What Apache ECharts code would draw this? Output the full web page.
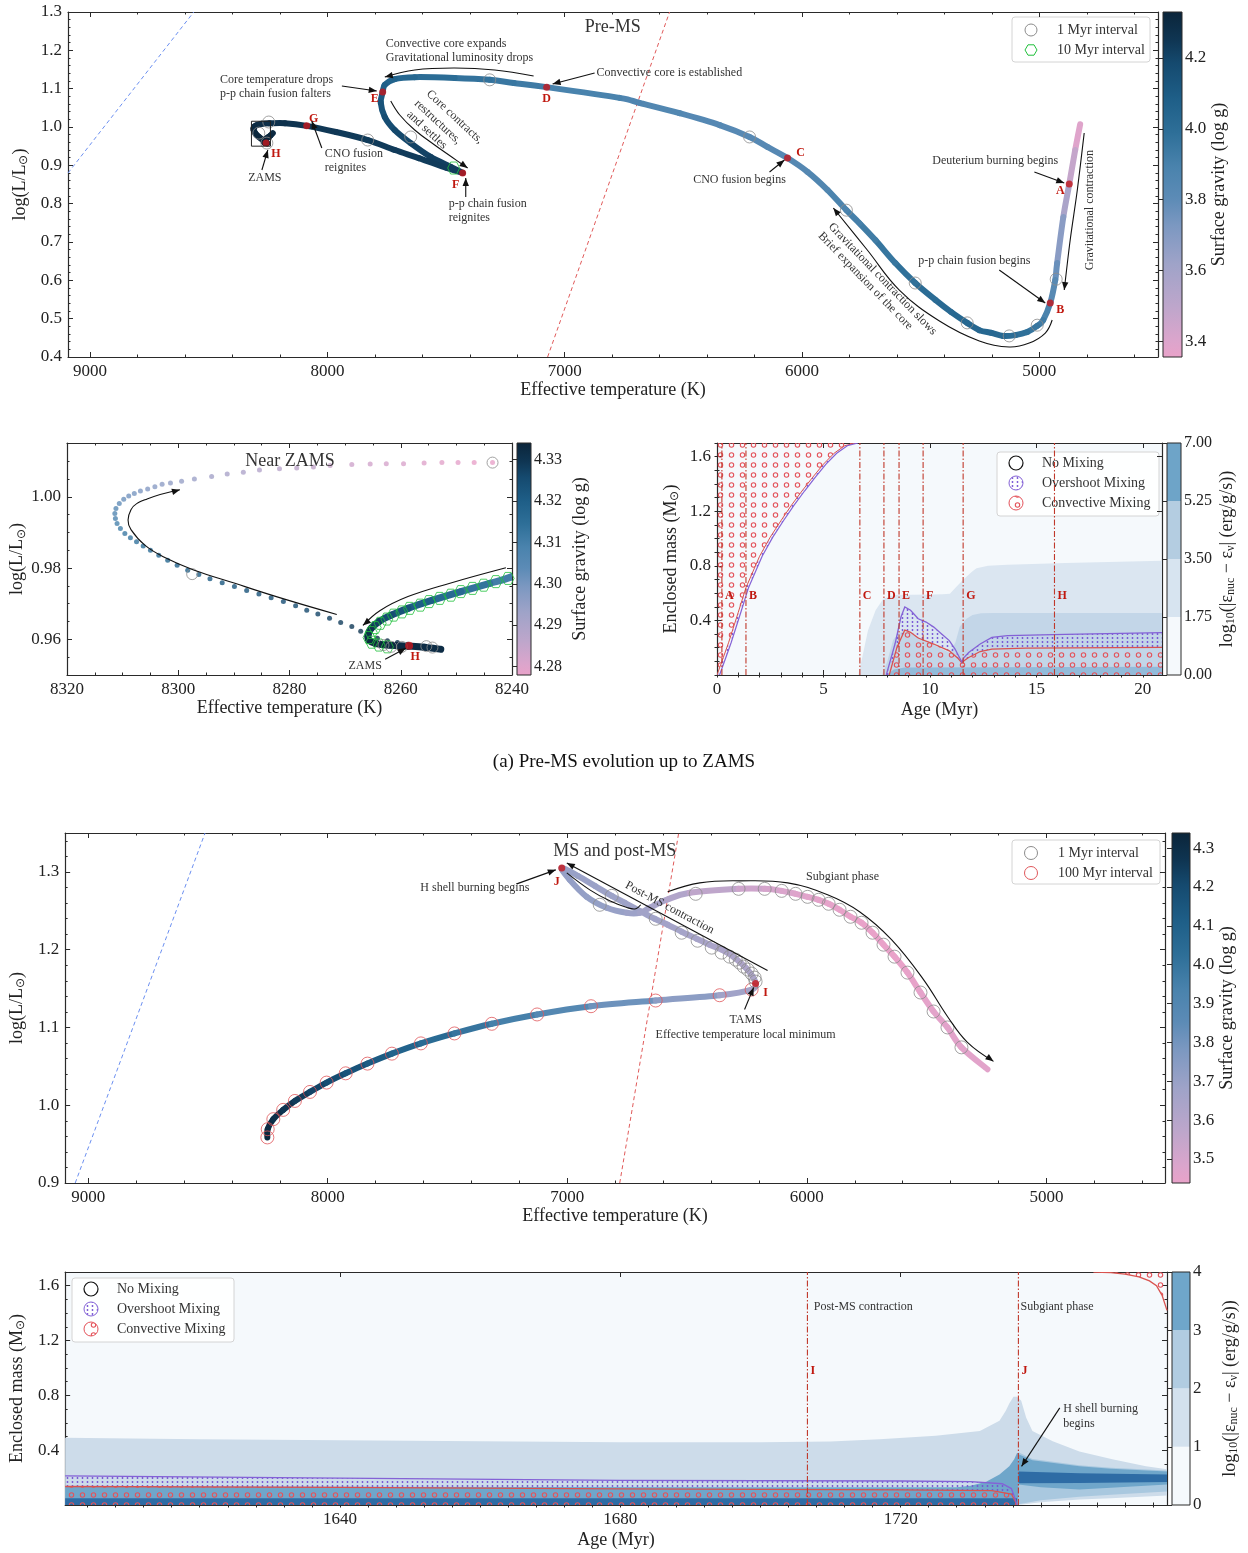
<!DOCTYPE html>
<html>
<head>
<meta charset="utf-8">
<script src="https://cdn.jsdelivr.net/npm/echarts/dist/echarts.min.js"></script>
<style>html,body{margin:0;padding:0;background:#fff}#c{width:1248px;height:1553px}</style>
</head>
<body>
<div id="c"></div>
<script>
// ---------------- Pre-MS evolutionary track (Teff, log L, log g) ----------------
const preTeff = [4828,4849,4874,4899,4925,4933,4954,4984,5009,5051,5101,5152,5202,5253,5304,5371,5438,5523,5607,5691,5758,5813,5893,5977,6061,6146,6221,6347,6516,6685,6769,7076,7215,7316,7464,7632,7716,7758,7767,7775,7758,7716,7649,7565,7480,7430,7497,7615,7716,7830,7964,8087,8179,8243.5,8275.7,8297.1,8306.8,8310.6,8311.3,8309.6,8305.0,8298.3,8289.9,8278.9,8268.8,8262.4,8258.7];
const preLum = [1.007,0.940,0.851,0.765,0.645,0.601,0.541,0.496,0.481,0.465,0.457,0.455,0.463,0.470,0.489,0.517,0.549,0.593,0.645,0.705,0.749,0.783,0.836,0.883,0.919,0.948,0.974,1.005,1.036,1.063,1.076,1.104,1.115,1.123,1.128,1.130,1.125,1.110,1.091,1.063,1.026,0.992,0.958,0.922,0.896,0.880,0.893,0.919,0.940,0.966,0.987,1.003,1.010,1.0096,1.0084,1.0050,1.0016,0.9981,0.9939,0.9897,0.9850,0.9794,0.9748,0.9694,0.9636,0.9596,0.9586];
const preLogg = [3.351,3.426,3.524,3.619,3.748,3.795,3.862,3.918,3.941,3.972,3.997,4.016,4.025,4.035,4.033,4.026,4.016,3.999,3.973,3.939,3.915,3.898,3.869,3.846,3.834,3.830,3.825,3.829,3.843,3.861,3.869,3.918,3.941,3.957,3.987,4.024,4.048,4.072,4.093,4.123,4.156,4.181,4.200,4.216,4.223,4.227,4.230,4.231,4.233,4.232,4.241,4.251,4.264,4.278,4.286,4.293,4.299,4.303,4.307,4.311,4.315,4.319,4.322,4.325,4.329,4.332,4.332];

// main-sequence arm arriving at the ZAMS point
const armTeff = [8230,8240,8244.0,8249.2,8254.3,8258.7,8261.7,8263.9,8265.3,8265.9,8265.7,8264.6,8262.4,8258.7,8255.8,8252.8];
const armLum = [0.984,0.9776,0.9757,0.9734,0.9710,0.9687,0.9668,0.9650,0.9631,0.9612,0.9598,0.9589,0.9584,0.9581,0.9578,0.9572];
const armLogg = [4.300,4.309,4.3115,4.315,4.318,4.322,4.324,4.326,4.329,4.331,4.332,4.333,4.333,4.332,4.332,4.332];

// 1 Myr / 10 Myr age markers on the pre-MS track
const pre1MyrTeff = [7316,7649,7830,8247,8289,8255,6221,5813,5523,5304,5127,5009,4929];
const pre1MyrLum = [1.123,0.974,0.966,1.013,0.984,0.958,0.974,0.783,0.593,0.489,0.455,0.483,0.603];
const pre10MyrTeff = [7468];
const pre10MyrLum = [0.893];

// evolutionary stages A-H
const stageNames = ['A','B','C','D','E','F','G','H'];
const stageTeff = [4874,4954,6061,7076,7767,7430,8087,8258.5];
const stageLum = [0.851,0.541,0.919,1.104,1.091,0.880,1.003,0.9582];

// ---------------- Near-ZAMS model points ----------------
const zamsDotTeff = [8243.5,8246.8,8249.7,8252.6,8255.8,8259.5,8262.6,8265.5,8268.8,8272.7,8275.7,8278.7,8281.8,8285.4,8288.3,8291.2,8294.0,8297.1,8299.4,8301.4,8302.9,8304.2,8305.5,8306.8,8307.9,8308.9,8309.8,8310.6,8311.2,8311.4,8311.3,8311.0,8310.4,8309.6,8308.6,8307.5,8306.3,8305.0,8303.5,8301.9,8300.2,8298.3,8296.3,8294.3,8292.1,8289.9,8287.7,8285.5,8283.3,8281.1,8278.9,8276.9,8274.9,8272.8,8270.8,8268.8,8267.2,8265.7,8264.2,8262.4,8260.6,8258.7];
const zamsDotLum = [1.0096,1.0096,1.0096,1.0096,1.0095,1.0093,1.0093,1.0092,1.0091,1.0088,1.0084,1.0081,1.0079,1.0075,1.0069,1.0064,1.0057,1.0050,1.0044,1.0039,1.0035,1.0028,1.0022,1.0016,1.0009,1.0002,0.9993,0.9981,0.9967,0.9953,0.9939,0.9925,0.9911,0.9897,0.9885,0.9874,0.9862,0.9850,0.9836,0.9822,0.9808,0.9794,0.9782,0.9770,0.9759,0.9748,0.9737,0.9727,0.9717,0.9706,0.9694,0.9682,0.9671,0.9659,0.9647,0.9636,0.9623,0.9612,0.9603,0.9596,0.9591,0.9586];
const zamsDotLogg = [4.2775,4.2782,4.2788,4.2794,4.2802,4.2812,4.2818,4.2825,4.2833,4.2844,4.2855,4.2864,4.2872,4.2884,4.2896,4.2907,4.2920,4.2934,4.2944,4.2954,4.2961,4.2970,4.2979,4.2988,4.2997,4.3006,4.3017,4.3031,4.3046,4.3061,4.3074,4.3088,4.3100,4.3113,4.3123,4.3131,4.3141,4.3150,4.3161,4.3172,4.3182,4.3192,4.3200,4.3208,4.3214,4.3220,4.3227,4.3232,4.3238,4.3244,4.3251,4.3259,4.3266,4.3274,4.3281,4.3288,4.3298,4.3306,4.3311,4.3315,4.3316,4.3317];
const zams10MyrTeff = [8240.7,8242.9,8245.1,8247.1,8249.2,8251.0,8253.0,8254.9,8256.5,8258.4,8259.8,8261.3,8262.5,8263.7,8264.6,8265.3,8265.7,8265.2,8263.9,8262.4];
const zams10MyrLum = [0.9771,0.9762,0.9752,0.9743,0.9734,0.9724,0.9715,0.9706,0.9696,0.9687,0.9677,0.9668,0.9657,0.9645,0.9633,0.9619,0.9605,0.9592,0.9584,0.9579];
const zams1MyrTeff = [8297.5,8243.5,8263.1,8261.7,8259.8,8255.4,8254.3];
const zams1MyrLum = [0.9783,1.0096,0.9584,0.9579,0.9579,0.9581,0.9577];

// ---------------- MS and post-MS track ----------------
const msTeff = [8252,8250.5,8227,8186,8137,8074,8004.5,7925,7834,7732,7611,7471,7315,7126,6901,6631,6364,6230.5,6214,6226,6255.5,6297,6347,6406,6460,6522.5,6581,6635,6698,6760,6814.5,6885,6956,7023,6989.6,6918.7,6835.3,6751.9,6697.7,6656,6585,6489,6285,6176,6105,6047,5997,5951,5909,5863.5,5817.6,5771.7,5725.8,5680,5634,5580,5525.6,5471,5413,5354.6,5246];
const msLum = [0.9586,0.9692,0.9821,0.9940,1.0055,1.0171,1.0291,1.0410,1.0535,1.0663,1.0795,1.0923,1.1047,1.1167,1.1273,1.1346,1.1414,1.1487,1.1564,1.1654,1.1769,1.1885,1.1987,1.2064,1.2141,1.2231,1.2321,1.2397,1.2500,1.2603,1.2692,1.2821,1.2949,1.3051,1.2897,1.2679,1.2538,1.2474,1.2474,1.2538,1.2641,1.2731,1.2782,1.2782,1.2756,1.2718,1.2679,1.2641,1.2590,1.2513,1.2423,1.2346,1.2218,1.2064,1.1910,1.1705,1.1449,1.1205,1.1000,1.0744,1.0462];
const msLogg = [4.331,4.320,4.302,4.281,4.260,4.234,4.207,4.178,4.146,4.110,4.069,4.024,3.975,3.918,3.852,3.775,3.697,3.653,3.640,3.635,3.631,3.631,3.635,3.643,3.650,3.658,3.664,3.671,3.677,3.683,3.688,3.693,3.698,3.704,3.711,3.715,3.708,3.694,3.680,3.662,3.633,3.599,3.538,3.508,3.490,3.478,3.467,3.457,3.450,3.445,3.440,3.434,3.433,3.434,3.435,3.439,3.448,3.455,3.457,3.464,3.456];
const ms100MyrTeff = [8252,8250.5,8227,8186,8137,8074,8004.5,7925,7834,7732,7611,7471,7315,7126,6901,6631,6364,6230.5];
const ms100MyrLum = [0.9586,0.9692,0.9821,0.9940,1.0055,1.0171,1.0291,1.0410,1.0535,1.0663,1.0795,1.0923,1.1047,1.1167,1.1273,1.1346,1.1414,1.1487];
const ms1MyrTeff = [6631,6522.5,6456,6397,6356,6322,6297,6281,6264,6247,6230.5,6218,6214,6814.5,6864.5,6464,6285,6176,6105,6047,5997,5951,5909,5863.5,5817.6,5771.7,5725.8,5680,5634,5580,5525.6,5471,5413,5354.6];
const ms1MyrLum = [1.2397,1.2218,1.2115,1.2026,1.1962,1.1910,1.1872,1.1833,1.1782,1.1744,1.1692,1.1641,1.1590,1.2692,1.2577,1.2718,1.2782,1.2782,1.2756,1.2718,1.2679,1.2641,1.2590,1.2513,1.2423,1.2346,1.2218,1.2064,1.1910,1.1705,1.1449,1.1205,1.1000,1.0744];
const msStageNames = ['I','J'];
const msStageTeff = [6214,7023];
const msStageLum = [1.1564,1.3051];

// ---------------- Kippenhahn diagram, pre-MS (age in Myr, enclosed mass in Msun) ----------------
const k1Band2Age = [6.64,6.82,7.09,7.45,7.82,8.36,9.09,10.18,10.6,10.94,11.2,11.55,12.0,12.19,12.73,13.64,16.36,20.9];
const k1Band2M = [0,0.128,0.326,0.474,0.561,0.586,0.588,0.590,0.592,0.596,0.64,0.696,0.76,0.782,0.801,0.808,0.821,0.838];
const k1Band3Age = [7.75,8.0,8.27,8.5,8.8,9.1,9.5,10.2,10.94,11.2,11.4,11.7,12.0,12.4,13.0,20.9];
const k1Band3M = [0,0.1,0.256,0.3,0.33,0.31,0.27,0.22,0.161,0.24,0.354,0.41,0.44,0.452,0.454,0.455];
const k1Band4Age = [7.95,8.3,8.8,20.9];
const k1Band4M = [0,0.04,0.055,0.06];
const k1ConvEnvAge = [0,0.3,0.55,1.0,1.36,2.0,2.5,3.0,3.5,4.0,4.5,5.0,5.5,6.0,6.5];
const k1ConvEnvM = [0,0.13,0.24,0.46,0.64,0.87,1.01,1.13,1.245,1.35,1.45,1.545,1.625,1.68,1.70];
const k1OvEnvAge = [0.12,0.42,0.67,1.12,1.48,2.12,2.62,3.12,3.62,4.12,4.62,5.12,5.62,6.12,6.62];
const k1OvEnvM = [0,0.13,0.24,0.46,0.64,0.87,1.01,1.13,1.245,1.35,1.45,1.545,1.625,1.68,1.70];
const k1ConvCoreAge = [8.09,8.45,8.82,9.09,9.45,10.18,10.91,11.3,11.5,11.6,11.82,12.36,12.91,14.5,20.9];
const k1ConvCoreM = [0,0.202,0.330,0.313,0.271,0.227,0.177,0.125,0.09,0.105,0.128,0.172,0.190,0.197,0.202];
const k1OvCoreAge = [7.95,8.36,8.64,8.82,9.09,9.45,9.82,10.18,10.55,10.91,11.18,11.5,11.6,11.82,12.36,12.91,13.64,16.36,20.9];
const k1OvCoreM = [0,0.227,0.425,0.499,0.474,0.412,0.388,0.351,0.301,0.252,0.190,0.095,0.128,0.165,0.227,0.276,0.289,0.298,0.311];
const k1StageNames = ['A','B','C','D','E','F','G','H'];
const k1StageAge = [0.23,1.36,6.71,7.84,8.55,9.68,11.56,15.85];

// ---------------- Kippenhahn diagram, MS and post-MS ----------------
const k2Band12Age = [1600.8,1620,1640,1660,1680,1700,1710,1717,1725,1731.3,1734.1,1735,1735.5,1736.1,1736.6,1737.2,1737.9,1738.8,1741.7,1745.5,1750.2,1755,1758];
const k2Band12M = [0.490,0.480,0.472,0.465,0.458,0.458,0.463,0.48,0.505,0.54,0.614,0.688,0.74,0.79,0.79,0.761,0.638,0.54,0.466,0.39,0.333,0.282,0.26];
const k2Band12LowAge = [1600.8,1736.8,1740,1745.5,1750,1758];
const k2Band12LowM = [0,0,0.02,0.04,0.05,0.07];
const k2Band23Age = [1736.8,1738.8,1745.5,1750,1758];
const k2Band23M = [0.385,0.335,0.29,0.272,0.252];
const k2Band23LowAge = [1736.8,1740,1745.5,1750,1758];
const k2Band23LowM = [0.005,0.035,0.06,0.075,0.098];
const k2Band34PreAge = [1600.8,1700,1728,1730,1732.2,1734.1,1735.5,1736.2,1736.6,1736.8];
const k2Band34PreM = [0.135,0.13,0.13,0.14,0.17,0.223,0.282,0.333,0.38,0.38];
const k2Band34PostAge = [1736.8,1738.8,1745.5,1750,1758];
const k2Band34PostM = [0.37,0.326,0.282,0.265,0.245];
const k2Band34PostLowAge = [1736.8,1740,1745.5,1750,1758];
const k2Band34PostLowM = [0.15,0.13,0.113,0.125,0.15];
const k2CorePreAge = [1600.8,1736.6];
const k2CorePreM = [0.05,0.05];
const k2CorePostAge = [1736.8,1745.5,1758];
const k2CorePostM = [0.245,0.232,0.223];
const k2CorePostLowM = [0.159,0.16,0.167];
const k2ConvCoreAge = [1600.8,1640,1680,1720,1733,1735.8,1736.4,1736.5];
const k2ConvCoreM = [0.135,0.128,0.118,0.11,0.105,0.08,0.02,0];
const k2OvCoreAge = [1600.8,1640,1680,1720,1730,1734.5,1735.8,1736.3,1736.6];
const k2OvCoreM = [0.213,0.196,0.18,0.175,0.17,0.155,0.12,0.05,0];
const k2ConvEnvAge = [1747.5,1750,1752,1754,1755.5,1756.5,1757.3,1758];
const k2ConvEnvM = [1.70,1.695,1.685,1.665,1.635,1.60,1.53,1.42];
const k2StageNames = ['I','J'];
const k2StageAge = [1706.7,1736.8];

// ---------------- helpers ----------------
const FONT = '"Liberation Serif","Times New Roman",serif';
const INK = '#2a2a2a';
const STOPS = [[0,'#e9a2c9'],[0.05,'#dba5cc'],[0.15,'#bda6cb'],[0.27,'#9fa3c8'],[0.38,'#7c98c1'],[0.46,'#5c8bb6'],[0.55,'#4a83ad'],[0.65,'#2e6f98'],[0.75,'#1e5e87'],[0.85,'#154a6f'],[0.92,'#0f3552'],[1,'#0b253a']];
function hex2rgb(h){return [parseInt(h.slice(1,3),16),parseInt(h.slice(3,5),16),parseInt(h.slice(5,7),16)];}
function cmap(t){
  t = Math.max(0, Math.min(1, t));
  for (let i = 1; i < STOPS.length; i++) {
    if (t <= STOPS[i][0]) {
      const a = hex2rgb(STOPS[i-1][1]), b = hex2rgb(STOPS[i][1]);
      const f = (t - STOPS[i-1][0]) / (STOPS[i][0] - STOPS[i-1][0]);
      return 'rgb(' + a.map((v,k)=>Math.round(v + (b[k]-v)*f)).join(',') + ')';
    }
  }
  return STOPS[STOPS.length-1][1];
}
const range = (a,b,d) => { const o=[]; const n=Math.round((b-a)/d); for(let i=0;i<=n;i++) o.push(+(a+i*d).toFixed(6)); return o; };

function makePattern(w, h, draw){
  const c = document.createElement('canvas'); c.width = w; c.height = h;
  draw(c.getContext('2d'));
  return {image: c, repeat: 'repeat'};
}
const RED = '#e4535b', PURPLE = '#8462d6';
const redCircles = makePattern(11, 10, ctx => { ctx.strokeStyle = RED; ctx.lineWidth = 1.1; ctx.beginPath(); ctx.arc(5.5,5,2.2,0,Math.PI*2); ctx.stroke(); });
const purpleDots = makePattern(5, 4, ctx => { ctx.fillStyle = '#7450d4'; ctx.beginPath(); ctx.arc(2.5,2,0.9,0,Math.PI*2); ctx.fill(); });

const grids = [], xAxes = [], yAxes = [], series = [];
function addGrid(l,t,w,h,bg){ grids.push({left:l, top:t, width:w, height:h, show:!!bg, backgroundColor:bg||'transparent', borderWidth:0}); return grids.length-1; }
const nameRich = {s:{fontFamily:FONT, fontSize:12, color:'#222', padding:[8,0,0,0]}};
function addAxes(list, gi, o){
  const base = {gridIndex:gi, type:'value', min:o.min, max:o.max, inverse:!!o.inverse, splitLine:{show:false}};
  const idx = list.length;
  list.push(Object.assign({}, base, {
    position:o.pos,
    axisLine:{show:true, onZero:false, lineStyle:{color:INK, width:1.2}},
    axisTick:{show:true, inside:true, length:5, customValues:o.major, lineStyle:{color:INK}},
    axisLabel:{show:true, customValues:o.labels||o.major, formatter:o.fmt, fontFamily:FONT, fontSize:o.fs||17, color:'#222', margin:6, hideOverlap:false},
    name:o.name, nameLocation:'middle', nameGap:o.nameGap, nameRotate:o.nameRotate,
    nameTextStyle:{fontFamily:FONT, fontSize:18, color:'#222', rich:nameRich}
  }));
  list.push(Object.assign({}, base, {position:o.pos, axisLine:{show:false}, axisTick:{show:true, inside:true, length:2.5, customValues:o.minor, lineStyle:{color:INK}}, axisLabel:{show:false}}));
  list.push(Object.assign({}, base, {position:o.opp, axisLine:{show:true, onZero:false, lineStyle:{color:INK, width:1.2}}, axisTick:{show:true, inside:true, length:5, customValues:o.major, lineStyle:{color:INK}}, axisLabel:{show:false}}));
  list.push(Object.assign({}, base, {position:o.opp, axisLine:{show:false}, axisTick:{show:true, inside:true, length:2.5, customValues:o.minor, lineStyle:{color:INK}}, axisLabel:{show:false}}));
  return idx;
}
function addColorbarAxes(gi, o){
  const xi = xAxes.length;
  xAxes.push({gridIndex:gi, type:'value', min:0, max:1, show:false});
  const yi = yAxes.length;
  yAxes.push({gridIndex:gi, type:'value', min:o.min, max:o.max, position:'right', splitLine:{show:false},
    axisLine:{show:false}, axisTick:{show:true, inside:true, length:5, customValues:o.major, lineStyle:{color:INK}},
    axisLabel:{show:true, customValues:o.major, formatter:o.fmt, fontFamily:FONT, fontSize:o.fs||17, color:'#222', margin:3, hideOverlap:false},
    name:o.name, nameLocation:'middle', nameGap:o.nameGap, nameRotate:90,
    nameTextStyle:{fontFamily:FONT, fontSize:18, color:'#222', rich:nameRich}});
  if (o.minor) yAxes.push({gridIndex:gi, type:'value', min:o.min, max:o.max, position:'right', splitLine:{show:false}, axisLine:{show:false},
    axisTick:{show:true, inside:true, length:2.5, customValues:o.minor, lineStyle:{color:INK}}, axisLabel:{show:false}});
  return [xi, yi];
}
function colorbarSeries(ax, lo, hi, bands){
  return {type:'custom', xAxisIndex:ax[0], yAxisIndex:ax[1], silent:true, data: bands ? bands.map(b=>[0,b[0]]) : [[0,lo]],
    renderItem:(p, api) => {
      if (bands) {
        const b = bands[p.dataIndex];
        const a = api.coord([0,b[1]]), c = api.coord([1,b[0]]);
        return {type:'rect', shape:{x:a[0], y:a[1], width:c[0]-a[0], height:c[1]-a[1]}, style:{fill:b[2], stroke:null}};
      }
      const a = api.coord([0,hi]), c = api.coord([1,lo]);
      const stops = STOPS.map(s=>({offset:1-s[0], color:s[1]})).reverse();
      return {type:'rect', shape:{x:a[0], y:a[1], width:c[0]-a[0], height:c[1]-a[1]},
        style:{fill:{type:'linear', x:0, y:0, x2:0, y2:1, colorStops:stops}, stroke:INK, lineWidth:1}};
    }};
}
function frameSeries(ax, lo, hi){
  return {type:'custom', xAxisIndex:ax[0], yAxisIndex:ax[1], silent:true, z:4, data:[[0,lo]],
    renderItem:(p, api) => { const a = api.coord([0,hi]), c = api.coord([1,lo]);
      return {type:'rect', shape:{x:a[0], y:a[1], width:c[0]-a[0], height:c[1]-a[1]}, style:{fill:'none', stroke:INK, lineWidth:1}}; }};
}
// colour-coded track drawn as smooth Catmull-Rom pieces
function trackSeries(xi, yi, X, Y, G, lo, hi, width){
  const n = X.length;
  return {type:'custom', xAxisIndex:xi, yAxisIndex:yi, silent:true, clip:true, z:2,
    data: X.map((x,i)=>[x, Y[i], G[i]]),
    renderItem:(p, api) => {
      const i = p.dataIndex; if (i >= n-1) return null;
      const P = k => { k = Math.max(0, Math.min(n-1, k)); return api.coord([X[k], Y[k]]); };
      const p0 = P(i-1), p1 = P(i), p2 = P(i+1), p3 = P(i+2);
      const g = (G[i] + G[i+1]) / 2;
      return {type:'bezierCurve', shape:{x1:p1[0], y1:p1[1], x2:p2[0], y2:p2[1],
        cpx1:p1[0]+(p2[0]-p0[0])/6, cpy1:p1[1]+(p2[1]-p0[1])/6, cpx2:p2[0]-(p3[0]-p1[0])/6, cpy2:p2[1]-(p3[1]-p1[1])/6},
        style:{stroke:cmap((g-lo)/(hi-lo)), lineWidth:width, lineCap:'round', fill:'none'}};
    }};
}
function markerSeries(xi, yi, X, Y, symbol, size, itemStyle, z){
  return {type:'scatter', xAxisIndex:xi, yAxisIndex:yi, silent:true, z:z||3, symbol:symbol, symbolSize:size,
    data: X.map((x,i)=>[x, Y[i]]), itemStyle:itemStyle};
}
const HEX = 'path://M1,0 L0.5,0.866 L-0.5,0.866 L-1,0 L-0.5,-0.866 L0.5,-0.866 Z';
const hollow = c => ({color:'rgba(0,0,0,0)', borderColor:c, borderWidth:1});
function dashedLine(xi, yi, pts, color){
  return {type:'line', xAxisIndex:xi, yAxisIndex:yi, silent:true, showSymbol:false, symbol:'none', z:1, data:pts,
    lineStyle:{color:color, width:1, type:[4,3]}};
}
function notesSeries(xi, yi, notes){
  return {type:'custom', xAxisIndex:xi, yAxisIndex:yi, silent:true, z:6, data: notes.map(n=>[n[1], n[2]]),
    renderItem:(p, api) => {
      const n = notes[p.dataIndex], o = n[3] || {};
      const c = api.coord([n[1], n[2]]);
      return {type:'text', x:c[0]+(o.dx||0), y:c[1]+(o.dy||0), rotation:(o.rot||0)*Math.PI/180,
        style:{text:n[0], fill:o.color||'#333', font:(o.bold?'bold ':'')+(o.size||12)+'px '+FONT, align:o.align||'center', verticalAlign:'middle'}};
    }};
}
function arrowsSeries(xi, yi, arrows){
  return {type:'custom', xAxisIndex:xi, yAxisIndex:yi, silent:true, z:6, data: arrows.map(a=>a.pts[0]),
    renderItem:(p, api) => {
      const a = arrows[p.dataIndex];
      const pts = a.pts.map(q=>api.coord(q));
      const kids = [{type:'polyline', shape:{points:pts, smooth:a.smooth||0}, style:{stroke:'#111', lineWidth:1.1, fill:'none'}}];
      if (a.head !== false) {
        const e = pts[pts.length-1], s = pts[pts.length-2];
        const ang = Math.atan2(e[1]-s[1], e[0]-s[0]), L = 8, W = 3.2;
        const bx = e[0]-L*Math.cos(ang), by = e[1]-L*Math.sin(ang);
        kids.push({type:'polygon', shape:{points:[[e[0],e[1]],[bx-W*Math.sin(ang), by+W*Math.cos(ang)],[bx+W*Math.sin(ang), by-W*Math.cos(ang)]]}, style:{fill:'#111', stroke:'none'}});
      }
      return {type:'group', children:kids};
    }};
}
function regionSeries(xi, yi, upX, upY, loX, loY, fill, z){
  return {type:'custom', xAxisIndex:xi, yAxisIndex:yi, silent:true, clip:true, z:z||1, data:[[upX[0], upY[0]]],
    renderItem:(p, api) => {
      const pts = upX.map((x,i)=>api.coord([x, upY[i]])).concat(loX.map((x,i)=>api.coord([x, loY[i]])).reverse());
      return {type:'polygon', shape:{points:pts}, style:{fill:fill, stroke:'none'}};
    }};
}
function curveSeries(xi, yi, X, Y, color, width, z){
  return {type:'custom', xAxisIndex:xi, yAxisIndex:yi, silent:true, clip:true, z:z||2, data:[[X[0], Y[0]]],
    renderItem:(p, api) => ({type:'polyline', shape:{points:X.map((x,i)=>api.coord([x, Y[i]]))}, style:{stroke:color, lineWidth:width, fill:'none'}})};
}
function stageLineSeries(xi, yi, ages, lo, hi){
  return {type:'custom', xAxisIndex:xi, yAxisIndex:yi, silent:true, z:4, data: ages.map(a=>[a, lo]),
    renderItem:(p, api) => { const a = api.coord([ages[p.dataIndex], lo]), b = api.coord([ages[p.dataIndex], hi]);
      return {type:'line', shape:{x1:a[0], y1:a[1], x2:b[0], y2:b[1]}, style:{stroke:'#c0392b', lineWidth:1.1, lineDash:[6,2,1.5,2]}}; }};
}

// ---------------- layout ----------------
const G1 = addGrid(68,12,1090,345), C1 = addGrid(1163,12,19,345);
const G2 = addGrid(67,443,445,232), C2 = addGrid(517,443,14,232);
const G3 = addGrid(717,443,445,232,'#f5f9fc'), C3 = addGrid(1167,443,14,232);
const G4 = addGrid(65,833,1100,350), C4 = addGrid(1172,833,18,350);
const G5 = addGrid(65,1272,1102,233,'#f5f9fc'), C5 = addGrid(1172,1272,18,233);

const tempFmt = v => String(Math.round(v));
const x1 = addAxes(xAxes, G1, {pos:'bottom', opp:'top', min:4500, max:9093, inverse:true, major:[5000,6000,7000,8000,9000], minor:range(4600,9000,200), fmt:tempFmt, name:'Effective temperature (K)', nameGap:22});
const y1 = addAxes(yAxes, G1, {pos:'left', opp:'right', min:0.4, max:1.3, major:range(0.4,1.3,0.1), minor:range(0.4,1.3,0.02), fmt:v=>v.toFixed(1), name:'log(L/L{s|⊙})', nameGap:38});
const x2 = addAxes(xAxes, G2, {pos:'bottom', opp:'top', min:8240, max:8320, inverse:true, major:[8240,8260,8280,8300,8320], minor:range(8240,8320,5), fmt:tempFmt, name:'Effective temperature (K)', nameGap:22});
const y2 = addAxes(yAxes, G2, {pos:'left', opp:'right', min:0.95, max:1.0151, major:[0.96,0.98,1.00], minor:range(0.95,1.015,0.005), fmt:v=>v.toFixed(2), name:'log(L/L{s|⊙})', nameGap:38});
const x3 = addAxes(xAxes, G3, {pos:'bottom', opp:'top', min:0, max:20.9, major:[0,5,10,15,20], minor:range(0,20,1), fmt:tempFmt, name:'Age (Myr)', nameGap:26});
const y3 = addAxes(yAxes, G3, {pos:'left', opp:'right', min:0, max:1.7, major:[0.4,0.8,1.2,1.6], minor:range(0,1.7,0.1), fmt:v=>v.toFixed(1), name:'Enclosed mass (M{s|⊙})', nameGap:36});
const x4 = addAxes(xAxes, G4, {pos:'bottom', opp:'top', min:4505, max:9096, inverse:true, major:[5000,6000,7000,8000,9000], minor:range(4600,9000,200), fmt:tempFmt, name:'Effective temperature (K)', nameGap:22});
const y4 = addAxes(yAxes, G4, {pos:'left', opp:'right', min:0.9, max:1.35, major:range(0.9,1.3,0.1), minor:range(0.9,1.34,0.02), fmt:v=>v.toFixed(1), name:'log(L/L{s|⊙})', nameGap:36});
const x5 = addAxes(xAxes, G5, {pos:'bottom', opp:'top', min:1600.8, max:1758, major:[1640,1680,1720], minor:range(1604,1756,4), fmt:tempFmt, name:'Age (Myr)', nameGap:26});
const y5 = addAxes(yAxes, G5, {pos:'left', opp:'right', min:0, max:1.7, major:[0.4,0.8,1.2,1.6], minor:range(0,1.7,0.1), fmt:v=>v.toFixed(1), name:'Enclosed mass (M{s|⊙})', nameGap:36});

const cb1 = addColorbarAxes(C1, {min:3.355, max:4.33, major:[3.4,3.6,3.8,4.0,4.2], minor:range(3.4,4.3,0.05), fmt:v=>v.toFixed(1), name:'Surface gravity (log g)', nameGap:28});
const cb2 = addColorbarAxes(C2, {min:4.278, max:4.334, major:[4.28,4.29,4.30,4.31,4.32,4.33], minor:range(4.28,4.334,0.0025), fmt:v=>v.toFixed(2), name:'Surface gravity (log g)', nameGap:40, fs:16});
const cb3 = addColorbarAxes(C3, {min:0, max:7, major:[0,1.75,3.5,5.25,7], fmt:v=>v.toFixed(2), name:'log{s|10}(|ε{s|nuc} − ε{s|ν}| (erg/g/s))', nameGap:36, fs:16});
const cb4 = addColorbarAxes(C4, {min:3.438, max:4.339, major:range(3.5,4.3,0.1), minor:range(3.44,4.33,0.02), fmt:v=>v.toFixed(1), name:'Surface gravity (log g)', nameGap:28});
const cb5 = addColorbarAxes(C5, {min:0, max:4, major:[0,1,2,3,4], fmt:v=>String(v), name:'log{s|10}(|ε{s|nuc} − ε{s|ν}| (erg/g/s))', nameGap:30});

// ---------------- panel 1: pre-MS HR diagram ----------------
series.push(dashedLine(x1, y1, [[9093,0.880],[8563,1.30]], '#6b8ff0'));
series.push(dashedLine(x1, y1, [[7072,0.4],[6558,1.3]], '#e05a5a'));
series.push(regionSeries(x1, y1, [8320,8240], [1.015,1.015], [8320,8240], [0.95,0.95], 'none'));
series.push({type:'custom', xAxisIndex:x1, yAxisIndex:y1, silent:true, z:5, data:[[8320,1.015]],
  renderItem:(p, api) => { const a = api.coord([8320,1.015]), b = api.coord([8240,0.95]);
    return {type:'rect', shape:{x:a[0], y:a[1], width:b[0]-a[0], height:b[1]-a[1]}, style:{fill:'none', stroke:'#222', lineWidth:1}}; }});
series.push(trackSeries(x1, y1, preTeff, preLum, preLogg, 3.355, 4.33, 6));
series.push(trackSeries(x1, y1, armTeff, armLum, armLogg, 3.355, 4.33, 6));
series.push(markerSeries(x1, y1, pre1MyrTeff, pre1MyrLum, 'circle', 12, hollow('#8c8c8c')));
series.push(markerSeries(x1, y1, pre10MyrTeff, pre10MyrLum, HEX, 12, hollow('#21c03c')));
series.push(markerSeries(x1, y1, stageTeff, stageLum, 'circle', 7, {color:'#c5161d'}, 4));
const stageOff = [[-9,7],[10,7],[13,-5],[0,12],[-8,7],[-7,12],[7,-7],[10,11]];
series.push(notesSeries(x1, y1, stageNames.map((s,i)=>[s, stageTeff[i], stageLum[i], {dx:stageOff[i][0], dy:stageOff[i][1], bold:true, color:'#c0180f', size:12}])));
series.push(notesSeries(x1, y1, [
  ['Pre-MS', 6798, 1.261, {size:18}],
  ['Convective core expands', 7754, 1.2165, {align:'left'}],
  ['Gravitational luminosity drops', 7754, 1.18, {align:'left'}],
  ['Core temperature drops', 8453, 1.1226, {align:'left'}],
  ['p-p chain fusion falters', 8453, 1.0861, {align:'left'}],
  ['Convective core is established', 6866, 1.1409, {align:'left'}],
  ['Core contracts,', 7463.5, 1.0261, {rot:-43}],
  ['restructures,', 7535, 1.013, {rot:-43}],
  ['and settles', 7581, 0.9922, {rot:-43}],
  ['CNO fusion', 8011, 0.9295, {align:'left'}],
  ['reignites', 8011, 0.893, {align:'left'}],
  ['ZAMS', 8263.5, 0.8669, {}],
  ['p-p chain fusion', 7489, 0.799, {align:'left'}],
  ['reignites', 7489, 0.7626, {align:'left'}],
  ['CNO fusion begins', 6263.5, 0.8617, {}],
  ['Deuterium burning begins', 5185.7, 0.9113, {}],
  ['Gravitational contraction', 4785.7, 0.7834, {rot:90}],
  ['p-p chain fusion begins', 5274, 0.6504, {}],
  ['Gravitational contraction slows', 5661, 0.6034, {rot:-46}],
  ['Brief expansion of the core', 5733, 0.5982, {rot:-46}]
]));
series.push(arrowsSeries(x1, y1, [
  {pts:[[7131,1.133],[7295,1.1487],[7463.5,1.1539],[7632,1.1487],[7758,1.1304]], smooth:0.4},
  {pts:[[7939,1.1069],[7792,1.0939]]},
  {pts:[[6874,1.1409],[7051,1.1122]]},
  {pts:[[7733,1.0678],[7695,1.0313],[7632,0.9922],[7548,0.953],[7476,0.9217],[7409,0.893]], smooth:0.4},
  {pts:[[8023.5,0.9452],[8065.6,1.0157]]},
  {pts:[[8276,0.8878],[8251,0.94]]},
  {pts:[[7417,0.8173],[7417,0.8669]]},
  {pts:[[6137,0.8826],[6074,0.9139]]},
  {pts:[[5021,0.8826],[4895,0.8539]]},
  {pts:[[4811,0.9843],[4840,0.8356],[4870,0.7052],[4895,0.5747]], smooth:0.3},
  {pts:[[5169,0.6269],[4975,0.5408]]},
  {pts:[[4946,0.4965],[4975,0.4625],[5042.5,0.4364],[5127,0.426],[5253,0.4417],[5421,0.4938],[5590,0.5747],[5725,0.6791],[5868,0.7887]], smooth:0.4}
]));
series.push(colorbarSeries(cb1, 3.355, 4.33));

// ---------------- panel 2: near ZAMS ----------------
series.push(trackSeries(x2, y2, armTeff, armLum, armLogg, 4.278, 4.334, 7));
series.push({type:'scatter', xAxisIndex:x2, yAxisIndex:y2, silent:true, z:3, symbolSize:5,
  data: zamsDotTeff.map((t,i)=>[t, zamsDotLum[i], zamsDotLogg[i]]),
  itemStyle:{color: p => cmap((p.value[2]-4.278)/(4.334-4.278))}});
series.push(markerSeries(x2, y2, zams10MyrTeff, zams10MyrLum, HEX, 12, hollow('#21c03c')));
series.push(markerSeries(x2, y2, zams1MyrTeff, zams1MyrLum, 'circle', 11, hollow('#8c8c8c')));
series.push(markerSeries(x2, y2, [stageTeff[7]], [stageLum[7]], 'circle', 8, {color:'#c5161d'}, 4));
series.push(notesSeries(x2, y2, [
  ['H', stageTeff[7], stageLum[7], {dx:6, dy:11, bold:true, color:'#c0180f'}],
  ['Near ZAMS', 8279.9, 1.0101, {size:18}],
  ['ZAMS', 8266.4, 0.9527, {}]
]));
series.push(arrowsSeries(x2, y2, [
  {pts:[[8271.5,0.967],[8288,0.9748],[8302.7,0.9832],[8308.5,0.9908],[8308.5,0.9964],[8305.6,0.9994],[8299.7,1.002]], smooth:0.4},
  {pts:[[8241.1,0.9801],[8251.3,0.9757],[8258.7,0.972],[8263.7,0.9681],[8266.8,0.9639]], smooth:0.4},
  {pts:[[8262.8,0.9544],[8259.1,0.9575]]}
]));
series.push(colorbarSeries(cb2, 4.278, 4.334));

// ---------------- panel 3: Kippenhahn, pre-MS ----------------
series.push(regionSeries(x3, y3, k1Band2Age, k1Band2M, [6.64,20.9], [0,0], '#dbe6f1'));
series.push(regionSeries(x3, y3, k1Band3Age, k1Band3M, [7.75,20.9], [0,0], '#c3d6e8'));
series.push(regionSeries(x3, y3, k1Band4Age, k1Band4M, [7.95,20.9], [0,0], '#93bbda'));
series.push(regionSeries(x3, y3, [0,6.5], [1.7,1.7], k1ConvEnvAge, k1ConvEnvM, redCircles, 2));
series.push(regionSeries(x3, y3, k1ConvEnvAge, k1ConvEnvM, k1OvEnvAge, k1OvEnvM, purpleDots, 2));
series.push(regionSeries(x3, y3, k1ConvCoreAge, k1ConvCoreM, [8.09,20.9], [0,0], redCircles, 2));
series.push(regionSeries(x3, y3, k1OvCoreAge, k1OvCoreM, k1ConvCoreAge, k1ConvCoreM, purpleDots, 2));
series.push(curveSeries(x3, y3, k1ConvEnvAge, k1ConvEnvM, '#d9534f', 1));
series.push(curveSeries(x3, y3, k1OvEnvAge, k1OvEnvM, PURPLE, 1.2));
series.push(curveSeries(x3, y3, k1ConvCoreAge, k1ConvCoreM, '#d9534f', 1.3));
series.push(curveSeries(x3, y3, k1OvCoreAge, k1OvCoreM, PURPLE, 1.3));
series.push(stageLineSeries(x3, y3, k1StageAge, 0, 1.7));
series.push(notesSeries(x3, y3, k1StageNames.map((s,i)=>[s, k1StageAge[i], 0.58, {dx:3, align:'left', bold:true, color:'#c0180f'}])));
series.push(colorbarSeries(cb3, 0, 7, [[0,1.75,'#f5f9fc'],[1.75,3.5,'#d7e4f0'],[3.5,5.25,'#b4cde1'],[5.25,7,'#6ea4c8']]));
series.push(frameSeries(cb3, 0, 7));

// ---------------- panel 4: MS and post-MS HR diagram ----------------
series.push(dashedLine(x4, y4, [[9054,0.9],[8512,1.35]], '#6b8ff0'));
series.push(dashedLine(x4, y4, [[6781,0.9],[6535,1.35]], '#e05a5a'));
series.push(trackSeries(x4, y4, msTeff, msLum, msLogg, 3.438, 4.339, 6));
series.push(markerSeries(x4, y4, ms100MyrTeff, ms100MyrLum, 'circle', 13, hollow('#e0575b')));
series.push(markerSeries(x4, y4, ms1MyrTeff, ms1MyrLum, 'circle', 13, hollow('#8c8c8c')));
series.push(markerSeries(x4, y4, msStageTeff, msStageLum, 'circle', 7, {color:'#c5161d'}, 4));
series.push(notesSeries(x4, y4, [
  ['I', msStageTeff[0], msStageLum[0], {dx:10, dy:9, bold:true, color:'#c0180f'}],
  ['J', msStageTeff[1], msStageLum[1], {dx:-5, dy:14, bold:true, color:'#c0180f'}],
  ['MS and post-MS', 6802, 1.3269, {size:18}],
  ['H shell burning begins', 7386, 1.2795, {}],
  ['Post-MS contraction', 6572.5, 1.2538, {rot:-28}],
  ['Subgiant phase', 5851, 1.2936, {}],
  ['TAMS', 6255.5, 1.1103, {}],
  ['Effective temperature local minimum', 6255.5, 1.091, {}]
]));
series.push(arrowsSeries(x4, y4, [
  {pts:[[7210.7,1.2846],[7048,1.3026]]},
  {pts:[[6164,1.1731],[7002,1.3115]]},
  {pts:[[7002,1.2987],[6906,1.2769],[6823,1.2628],[6748,1.2538],[6714,1.2526],[6693.5,1.2577]], smooth:0.4, head:false},
  {pts:[[6581,1.2744],[6447,1.2859],[6281,1.2885],[6080,1.2859],[5913.5,1.2705],[5780,1.2487],[5646.6,1.2128],[5513,1.1615],[5413,1.1141],[5329.6,1.0808],[5221,1.0564]], smooth:0.4},
  {pts:[[6260,1.1231],[6222,1.1513]]}
]));
series.push(colorbarSeries(cb4, 3.438, 4.339));

// ---------------- panel 5: Kippenhahn, MS and post-MS ----------------
series.push(regionSeries(x5, y5, k2Band12Age, k2Band12M, k2Band12LowAge, k2Band12LowM, '#cddcea'));
series.push(regionSeries(x5, y5, k2Band23Age, k2Band23M, k2Band23LowAge, k2Band23LowM, '#a9c8df'));
series.push(regionSeries(x5, y5, k2Band34PreAge, k2Band34PreM, [1600.8,1736.8], [0,0], '#6fa6ca'));
series.push(regionSeries(x5, y5, k2Band34PostAge, k2Band34PostM, k2Band34PostLowAge, k2Band34PostLowM, '#6fa6ca'));
series.push(regionSeries(x5, y5, k2CorePreAge, k2CorePreM, [1600.8,1736.6], [0,0], '#2e6ca5'));
series.push(regionSeries(x5, y5, k2CorePostAge, k2CorePostM, k2CorePostAge, k2CorePostLowM, '#2e6ca5'));
series.push(regionSeries(x5, y5, k2ConvCoreAge, k2ConvCoreM, [1600.8,1736.5], [0,0], redCircles, 2));
series.push(regionSeries(x5, y5, k2OvCoreAge, k2OvCoreM, k2ConvCoreAge, k2ConvCoreM, purpleDots, 2));
series.push(regionSeries(x5, y5, [1747.5,1758], [1.7,1.7], k2ConvEnvAge, k2ConvEnvM, redCircles, 2));
series.push(curveSeries(x5, y5, k2ConvCoreAge, k2ConvCoreM, '#d9534f', 1.3));
series.push(curveSeries(x5, y5, k2OvCoreAge, k2OvCoreM, PURPLE, 1.3));
series.push(curveSeries(x5, y5, k2ConvEnvAge, k2ConvEnvM, '#d9534f', 1.3));
series.push(stageLineSeries(x5, y5, k2StageAge, 0, 1.7));
series.push(notesSeries(x5, y5, k2StageNames.map((s,i)=>[s, k2StageAge[i], 0.98, {dx:3, align:'left', bold:true, color:'#c0180f'}]).concat([
  ['Post-MS contraction', 1707.6, 1.4455, {align:'left'}],
  ['Subgiant phase', 1737.1, 1.4455, {align:'left'}],
  ['H shell burning', 1743.2, 0.7018, {align:'left'}],
  ['begins', 1743.2, 0.591, {align:'left'}]
])));
series.push(arrowsSeries(x5, y5, [{pts:[[1742.7,0.709],[1737.25,0.282]]}]));
series.push(colorbarSeries(cb5, 0, 4, [[0,1,'#f5f9fc'],[1,2,'#d3e1ee'],[2,3,'#b1cce1'],[3,4,'#6fa6ca']]));
series.push(frameSeries(cb5, 0, 4));

// ---------------- legends ----------------
function hexPts(cx, cy, r){ return [[cx+r,cy],[cx+r/2,cy+0.866*r],[cx-r/2,cy+0.866*r],[cx-r,cy],[cx-r/2,cy-0.866*r],[cx+r/2,cy-0.866*r]]; }
const LT = (t, x, y) => ({type:'text', style:{text:t, x:x, y:y, font:'14px '+FONT, fill:'#333', verticalAlign:'middle'}});
const box = (x, y, w, h) => ({type:'rect', shape:{x:x, y:y, width:w, height:h, r:3}, style:{fill:'rgba(255,255,255,0.9)', stroke:'#d4d4d4', lineWidth:1}});
function mixingLegend(x, y){
  return [box(x, y, 162, 64),
    {type:'circle', shape:{cx:x+19, cy:y+11, r:7}, style:{fill:'none', stroke:'#111', lineWidth:1.2}}, LT('No Mixing', x+45, y+11),
    {type:'circle', shape:{cx:x+19, cy:y+31, r:7}, style:{fill:purpleDots, stroke:PURPLE, lineWidth:1}}, LT('Overshoot Mixing', x+45, y+31),
    {type:'circle', shape:{cx:x+19, cy:y+51, r:7}, style:{fill:redCircles, stroke:RED, lineWidth:1}}, LT('Convective Mixing', x+45, y+51)];
}
const graphic = [{type:'group', z:100, children:[
  box(1012,17,138,45),
  {type:'circle', shape:{cx:1031, cy:30, r:6}, style:{fill:'none', stroke:'#8c8c8c', lineWidth:1}}, LT('1 Myr interval', 1057, 30),
  {type:'polygon', shape:{points:hexPts(1031,50,6)}, style:{fill:'none', stroke:'#21c03c', lineWidth:1}}, LT('10 Myr interval', 1057, 50),
  box(1012,840,148,44),
  {type:'circle', shape:{cx:1031, cy:853, r:6.5}, style:{fill:'none', stroke:'#8c8c8c', lineWidth:1}}, LT('1 Myr interval', 1058, 853),
  {type:'circle', shape:{cx:1031, cy:873, r:6.5}, style:{fill:'none', stroke:'#e0575b', lineWidth:1}}, LT('100 Myr interval', 1058, 873)
].concat(mixingLegend(997,452), mixingLegend(72,1278))}];

const chart = echarts.init(document.getElementById('c'), null, {renderer:'canvas'});
chart.setOption({
  animation:false,
  backgroundColor:'#ffffff',
  title:{text:'(a) Pre-MS evolution up to ZAMS', left:'center', top:748, textStyle:{fontFamily:FONT, fontSize:19, fontWeight:'normal', color:'#111'}},
  grid:grids, xAxis:xAxes, yAxis:yAxes, series:series, graphic:graphic
});
</script>
</body>
</html>
